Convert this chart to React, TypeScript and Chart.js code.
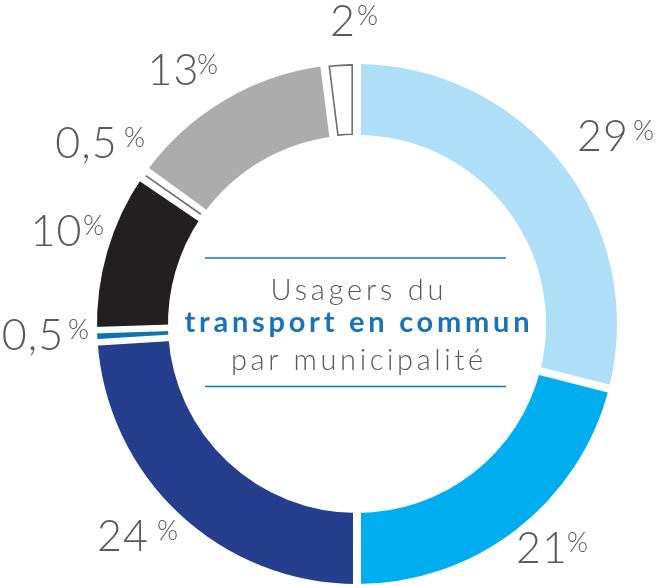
import React, { useEffect, useRef } from "react";
import { Chart, registerables } from "chart.js";

Chart.register(...registerables);

// ---- data ----
const categories = ["29 %", "21 %", "24 %", "0,5 % (a)", "10 %", "0,5 % (b)", "13 %", "2 %"];
const shares = [29, 21, 24, 0.5, 10, 0.5, 13, 2];
const valueLabels = ["29", "21", "24", "0,5", "10", "0,5", "13", "2"];
const titleLines = ["Usagers du", "transport en commun", "par municipalité"];

// ---- styles / layout ----
const sliceColors = ["#aedff7", "#00aeef", "#253f8e", "#0b73b7", "#231f20", "#ffffff", "#acacac", "#ffffff"];
const hollowSlices = [false, false, false, false, false, true, false, true];
// digit-group centre x, digit baseline y, "%" left x
const labelLayout = [
  { cx: 602.5, y: 151, px: 633 },
  { cx: 541.5, y: 563, px: 567 },
  { cx: 122.5, y: 551, px: 157 },
  { cx: 32.5, y: 350, px: 68 },
  { cx: 56, y: 246, px: 83 },
  { cx: 86, y: 158, px: 124 },
  { cx: 173, y: 85, px: 197 },
  { cx: 342.5, y: 36, px: 357 },
];
const titleLayout = [
  { y: 299.5, w: 173, font: "300 29px Lato", color: "#58595b" },
  { y: 331.5, w: 345, font: "700 29px Lato", color: "#1a73b8" },
  { y: 369.5, w: 252, font: "300 29px Lato", color: "#58595b" },
];
const GAP = 8;
const THIN_GAP = 6.5;
const THIN_COVER = 1.2;
const OUTLINE = "#6d6e71";
const TEXT_GREY = "#58595b";
const RULE_BLUE = "#1a73b8";

const decorPlugin = {
  id: "ringDecor",
  afterDatasetsDraw(chart: any) {
    const ctx: CanvasRenderingContext2D = chart.ctx;
    const arcs = chart.getDatasetMeta(0).data as any[];
    const n = arcs.length;
    const thin = (i: number) =>
      !hollowSlices[i] && arcs[i].circumference * arcs[i].outerRadius < 12;
    ctx.save();
    // white gaps between slices (parallel-sided)
    for (let i = 0; i < n; i++) {
      const a = arcs[i];
      const prev = (i - 1 + n) % n;
      let covPrev = GAP / 2;
      let covNext = GAP / 2;
      if (thin(i)) {
        covNext = THIN_COVER;
        covPrev = THIN_GAP - THIN_COVER;
      } else if (thin(prev)) {
        covPrev = THIN_COVER;
        covNext = THIN_GAP - THIN_COVER;
      }
      const t = a.startAngle;
      const ux = Math.cos(t), uy = Math.sin(t);
      const vx = -uy, vy = ux;
      const o = (covNext - covPrev) / 2;
      const r0 = a.innerRadius - 3, r1 = a.outerRadius + 3;
      ctx.beginPath();
      ctx.moveTo(a.x + ux * r0 + vx * o, a.y + uy * r0 + vy * o);
      ctx.lineTo(a.x + ux * r1 + vx * o, a.y + uy * r1 + vy * o);
      ctx.lineWidth = covPrev + covNext;
      ctx.strokeStyle = "#ffffff";
      ctx.lineCap = "butt";
      ctx.stroke();
    }
    // outlines of the hollow (white) slices
    for (let i = 0; i < n; i++) {
      if (!hollowSlices[i]) continue;
      const a = arcs[i];
      const lw = 1.6;
      const ins = GAP / 2 + lw / 2;
      const Ro = a.outerRadius - lw / 2;
      const Ri = a.innerRadius + lw / 2;
      ctx.beginPath();
      if (a.circumference * a.outerRadius - GAP > 8) {
        ctx.arc(a.x, a.y, Ro, a.startAngle + ins / Ro, a.endAngle - ins / Ro);
        ctx.arc(a.x, a.y, Ri, a.endAngle - ins / Ri, a.startAngle + ins / Ri, true);
        ctx.closePath();
      } else {
        const m = (a.startAngle + a.endAngle) / 2;
        ctx.moveTo(a.x + Math.cos(m) * (Ri + 1), a.y + Math.sin(m) * (Ri + 1));
        ctx.lineTo(a.x + Math.cos(m) * (Ro - 1), a.y + Math.sin(m) * (Ro - 1));
      }
      ctx.strokeStyle = OUTLINE;
      ctx.lineWidth = lw;
      ctx.lineJoin = "miter";
      ctx.stroke();
    }
    ctx.restore();
  },
  afterDraw(chart: any) {
    const ctx: any = chart.ctx;
    const arcs = chart.getDatasetMeta(0).data as any[];
    ctx.save();
    ctx.textBaseline = "alphabetic";
    ctx.textAlign = "left";
    // percentage labels
    valueLabels.forEach((txt, i) => {
      const L = labelLayout[i];
      ctx.fillStyle = TEXT_GREY;
      ctx.font = "300 43px Lato";
      ctx.letterSpacing = "1px";
      const w = ctx.measureText(txt).width - 1;
      ctx.fillText(txt, L.cx - w / 2, L.y);
      ctx.font = "300 27px Lato";
      ctx.letterSpacing = "0px";
      ctx.fillText("%", L.px, L.y - 11);
    });
    // centre title
    const cx = arcs[0].x;
    titleLines.forEach((txt, i) => {
      const T = titleLayout[i];
      ctx.font = T.font;
      ctx.letterSpacing = "0px";
      const base = ctx.measureText(txt).width;
      const sp = (T.w - base) / Math.max(1, txt.length - 1);
      ctx.letterSpacing = sp.toFixed(2) + "px";
      ctx.fillStyle = T.color;
      ctx.fillText(txt, cx - T.w / 2, T.y);
    });
    ctx.letterSpacing = "0px";
    // rules above and below the title
    ctx.strokeStyle = RULE_BLUE;
    ctx.lineWidth = 1.3;
    [258, 386.5].forEach((y) => {
      ctx.beginPath();
      ctx.moveTo(cx - 152, y);
      ctx.lineTo(cx + 149, y);
      ctx.stroke();
    });
    ctx.restore();
  },
};

export default function App() {
  const ref = useRef<HTMLCanvasElement | null>(null);
  useEffect(() => {
    document.body.style.margin = "0";
    const canvas = ref.current;
    if (!canvas) return;
    const chart = new Chart(canvas, {
      type: "doughnut",
      data: {
        labels: categories,
        datasets: [
          {
            data: shares,
            backgroundColor: sliceColors,
            borderWidth: 0,
          },
        ],
      },
      options: {
        responsive: false,
        maintainAspectRatio: false,
        animation: false,
        events: [],
        radius: 260,
        cutout: "72.7%",
        layout: { padding: { left: 97, right: 39, top: 64, bottom: 1 } },
        plugins: {
          legend: { display: false },
          tooltip: { enabled: false },
          title: { display: false },
        },
      },
      plugins: [decorPlugin],
    });
    return () => chart.destroy();
  }, []);
  return (
    <div style={{ position: "absolute", left: 0, top: 0, width: 656, height: 585, background: "#ffffff" }}>
      <canvas ref={ref} width={656} height={585} style={{ display: "block", width: 656, height: 585 }} />
    </div>
  );
}
